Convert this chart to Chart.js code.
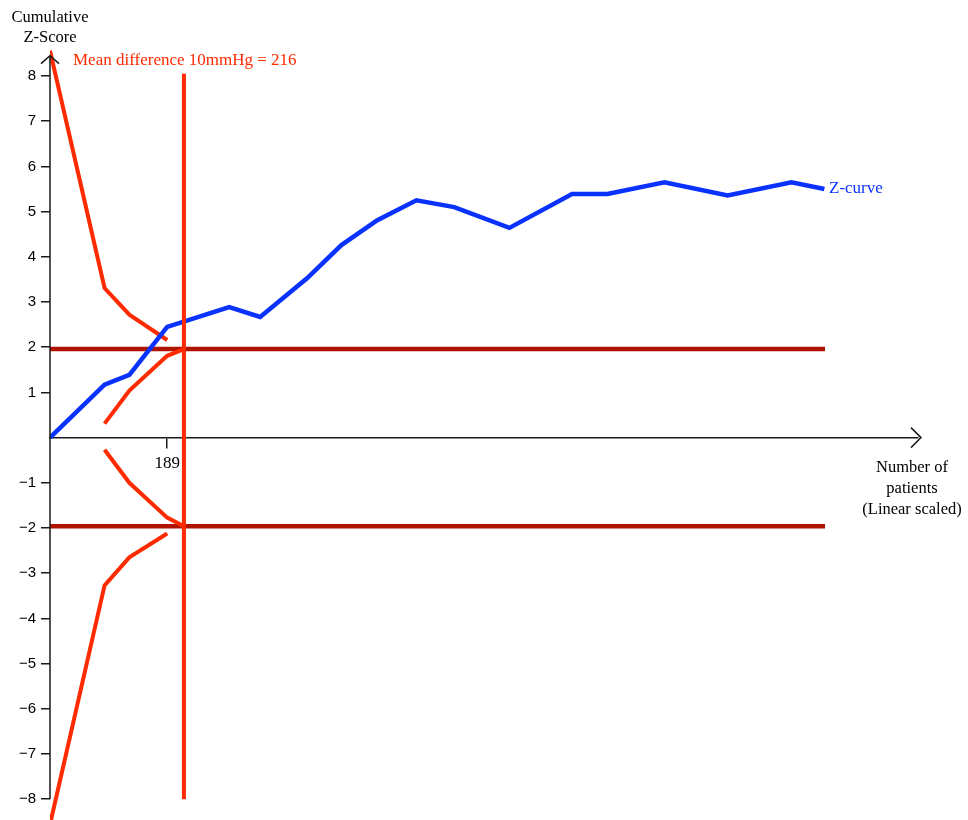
<!DOCTYPE html>
<html>
<head>
<meta charset="utf-8">
<script src="https://cdn.jsdelivr.net/npm/chart.js@4/dist/chart.umd.min.js"></script>
<style>
  html, body { margin: 0; padding: 0; background: #fff; }
  #wrap { width: 968px; height: 820px; position: relative; }
</style>
</head>
<body>
<div id="wrap"><canvas id="tsa"></canvas></div>
<script>
// ---- data ----
const zCurveN = [0, 88, 128, 189, 289, 339, 415, 470, 528, 591, 652, 741, 842, 899, 991, 1093, 1196, 1249];
const zCurveZ = [0, 1.17, 1.39, 2.45, 2.89, 2.67, 3.53, 4.26, 4.81, 5.25, 5.10, 4.64, 5.39, 5.39, 5.65, 5.36, 5.65, 5.50];

const boundaryN = [0, 88, 128, 189];
const upperBoundZ = [8.56, 3.31, 2.72, 2.16];
const lowerBoundZ = [-8.56, -3.27, -2.65, -2.12];

const futilityN = [88, 128, 189, 216];
const upperFutilityZ = [0.31, 1.04, 1.81, 1.96];
const lowerFutilityZ = [-0.27, -1.00, -1.77, -1.96];

const requiredN = 216;
const requiredZ = [-8, 8.05];
const conventionalZ = 1.96;
const conventionalEndN = 1250;

const yTicks = [-8, -7, -6, -5, -4, -3, -2, -1, 1, 2, 3, 4, 5, 6, 7, 8];
const xTicks = [189];

// ---- helpers ----
const pts = (xs, ys) => xs.map((x, i) => ({ x, y: ys[i] }));
const RED = '#ff2a00';
const DARKRED = '#b01400';
const BLUE = '#0a32ff';
const INK = '#1a1a1a';
const SERIF = '"Liberation Serif", "DejaVu Serif", serif';
const SANS = '"Liberation Sans", Arial, sans-serif';

const line = (data, color, width) => ({
  data, borderColor: color, borderWidth: width, pointRadius: 0,
  borderJoinStyle: 'miter', borderCapStyle: 'butt', fill: false, tension: 0
});

// axes lines, arrows and free text
const decor = {
  id: 'decor',
  afterDraw(chart) {
    const { ctx, scales: { x, y } } = chart;
    const x0 = x.getPixelForValue(0);
    const yTop = y.getPixelForValue(8.45);
    const yBot = y.getPixelForValue(-8);
    const y0 = y.getPixelForValue(0);
    const xEnd = x.getPixelForValue(1400) + 3;

    ctx.save();
    ctx.strokeStyle = INK;
    ctx.lineWidth = 1.5;
    ctx.beginPath();
    ctx.moveTo(x0, yTop);
    ctx.lineTo(x0, yBot);
    // y arrow
    ctx.moveTo(x0 - 9, yTop + 8);
    ctx.lineTo(x0, yTop);
    ctx.lineTo(x0 + 9, yTop + 8);
    // x arrow
    ctx.moveTo(xEnd - 10, y0 - 10);
    ctx.lineTo(xEnd, y0);
    ctx.lineTo(xEnd - 10, y0 + 10);
    ctx.stroke();

    ctx.font = '16.5px ' + SERIF;
    ctx.textBaseline = 'alphabetic';
    ctx.fillStyle = '#000';
    ctx.textAlign = 'center';
    ctx.fillText('Cumulative', 50, 22);
    ctx.fillText('Z-Score', 50, 42);
    ctx.fillText('Number of', 912, 472);
    ctx.fillText('patients', 912, 493);
    ctx.fillText('(Linear scaled)', 912, 514);

    ctx.font = '17px ' + SERIF;
    ctx.textAlign = 'left';
    ctx.fillStyle = RED;
    ctx.fillText('Mean difference 10mmHg = 216', 73, 65);
    ctx.fillStyle = BLUE;
    ctx.fillText('Z-curve', 829, 193);
    ctx.restore();
  }
};

new Chart(document.getElementById('tsa'), {
  type: 'line',
  data: {
    datasets: [
      line(pts([requiredN, requiredN], requiredZ), RED, 4),
      line(pts(zCurveN, zCurveZ), BLUE, 4.5),
      line(pts(boundaryN, upperBoundZ), RED, 4),
      line(pts(boundaryN, lowerBoundZ), RED, 4),
      line(pts(futilityN, upperFutilityZ), RED, 4),
      line(pts(futilityN, lowerFutilityZ), RED, 4),
      line(pts([0, conventionalEndN], [conventionalZ, conventionalZ]), DARKRED, 4.5),
      line(pts([0, conventionalEndN], [-conventionalZ, -conventionalZ]), DARKRED, 4.5)
    ]
  },
  options: {
    responsive: true,
    maintainAspectRatio: false,
    animation: false,
    events: [],
    layout: { padding: { left: 0, top: 48, right: 50, bottom: 0 } },
    plugins: { legend: { display: false }, tooltip: { enabled: false }, title: { display: false } },
    scales: {
      x: {
        type: 'linear',
        min: 0,
        max: 1400,
        position: { y: 0 },
        afterBuildTicks: s => { s.ticks = xTicks.map(v => ({ value: v })); },
        grid: { drawOnChartArea: false, drawTicks: true, tickLength: 10, color: INK, lineWidth: 1.5 },
        border: { display: true, color: INK, width: 1.5 },
        ticks: { color: '#000', padding: 6, font: { family: SERIF, size: 17 }, maxRotation: 0 }
      },
      y: {
        type: 'linear',
        min: -8.46,
        max: 8.62,
        position: 'left',
        afterBuildTicks: s => { s.ticks = yTicks.map(v => ({ value: v })); },
        afterFit: s => { s.width = 50; s.paddingTop = 0; s.paddingBottom = 0; },
        grid: { drawOnChartArea: false, drawTicks: true, tickLength: 9, color: INK, lineWidth: 1.5 },
        border: { display: false },
        ticks: {
          color: '#000',
          padding: 5,
          font: { family: SANS, size: 15 },
          callback: v => (v < 0 ? '\u2212' + Math.abs(v) : String(v))
        }
      }
    }
  },
  plugins: [decor]
});
</script>
</body>
</html>
